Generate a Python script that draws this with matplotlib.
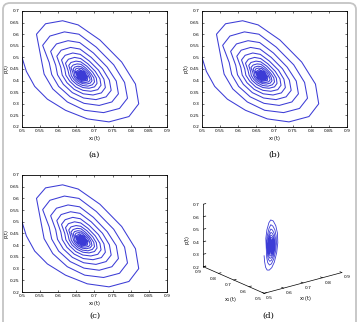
import matplotlib
matplotlib.use("Agg")
import matplotlib.pyplot as plt
import numpy as np
from matplotlib.patches import FancyBboxPatch

# trajectory (x1 = x2 = x3 in the pictures), one row per turn
x_t = [0.500, 0.512, 0.535, 0.570, 0.620, 0.680, 0.740, 0.795, 0.822, 0.813, 0.775, 0.715, 0.655, 0.612, 0.565, 0.540,
       0.553, 0.561, 0.585, 0.625, 0.673, 0.725, 0.769, 0.791, 0.783, 0.753, 0.705, 0.657, 0.617, 0.577, 0.557,
       0.575, 0.582, 0.601, 0.633, 0.671, 0.713, 0.748, 0.766, 0.760, 0.735, 0.697, 0.659, 0.627, 0.595, 0.579,
       0.593, 0.598, 0.614, 0.639, 0.670, 0.704, 0.732, 0.746, 0.741, 0.722, 0.691, 0.660, 0.634, 0.608, 0.596,
       0.607, 0.611, 0.624, 0.644, 0.669, 0.696, 0.719, 0.730, 0.726, 0.711, 0.686, 0.661, 0.640, 0.619, 0.609,
       0.618, 0.621, 0.632, 0.648, 0.668, 0.690, 0.709, 0.718, 0.715, 0.702, 0.682, 0.662, 0.645, 0.628, 0.620,
       0.627, 0.630, 0.638, 0.652, 0.668, 0.685, 0.700, 0.707, 0.705, 0.695, 0.679, 0.662, 0.649, 0.635, 0.629,
       0.634, 0.636, 0.643, 0.654, 0.667, 0.682, 0.694, 0.700, 0.698, 0.689, 0.676, 0.663, 0.652, 0.641, 0.635,
       0.640, 0.642, 0.647, 0.656, 0.667, 0.678, 0.688, 0.693, 0.691, 0.685, 0.674, 0.663, 0.654, 0.645, 0.641,
       0.645, 0.646, 0.651, 0.658, 0.666, 0.676, 0.684, 0.688, 0.686, 0.681, 0.672, 0.664, 0.656, 0.649, 0.646,
       0.649, 0.653, 0.666, 0.680, 0.682, 0.671, 0.658, 0.649,
       0.652, 0.656, 0.666, 0.677, 0.679, 0.670, 0.659, 0.652,
       0.654, 0.657, 0.666, 0.675, 0.676, 0.669, 0.660, 0.655,
       0.656, 0.659, 0.666, 0.673, 0.674, 0.668, 0.661, 0.657,
       0.658, 0.660, 0.666, 0.671, 0.672, 0.668, 0.662, 0.658,
       0.660, 0.661, 0.665, 0.670, 0.671, 0.667, 0.663, 0.660,
       0.661, 0.662, 0.665, 0.669, 0.670, 0.667, 0.663, 0.661,
       0.662, 0.663, 0.665, 0.668, 0.669, 0.666, 0.664, 0.662,
       0.662, 0.663, 0.665, 0.667, 0.668, 0.666, 0.664, 0.663,
       0.663, 0.664, 0.665, 0.667, 0.667, 0.666, 0.664, 0.663, 0.665]
p_t = [0.500, 0.440, 0.375, 0.320, 0.272, 0.235, 0.222, 0.245, 0.300, 0.385, 0.480, 0.575, 0.640, 0.658, 0.645, 0.600,
       0.492, 0.428, 0.364, 0.308, 0.272, 0.262, 0.280, 0.324, 0.392, 0.468, 0.544, 0.600, 0.610, 0.592, 0.552,
       0.478, 0.426, 0.375, 0.330, 0.302, 0.293, 0.308, 0.343, 0.398, 0.458, 0.519, 0.564, 0.572, 0.558, 0.526,
       0.466, 0.425, 0.384, 0.348, 0.325, 0.318, 0.330, 0.358, 0.402, 0.451, 0.500, 0.536, 0.543, 0.531, 0.505,
       0.457, 0.424, 0.391, 0.362, 0.343, 0.338, 0.347, 0.370, 0.406, 0.445, 0.484, 0.513, 0.519, 0.509, 0.489,
       0.450, 0.423, 0.397, 0.373, 0.358, 0.354, 0.361, 0.380, 0.408, 0.440, 0.472, 0.495, 0.500, 0.492, 0.475,
       0.444, 0.423, 0.401, 0.382, 0.370, 0.367, 0.373, 0.388, 0.411, 0.436, 0.462, 0.481, 0.484, 0.478, 0.465,
       0.440, 0.422, 0.405, 0.389, 0.379, 0.376, 0.382, 0.394, 0.412, 0.433, 0.454, 0.470, 0.472, 0.467, 0.456,
       0.436, 0.422, 0.408, 0.395, 0.387, 0.385, 0.389, 0.399, 0.414, 0.431, 0.448, 0.460, 0.462, 0.458, 0.449,
       0.433, 0.421, 0.410, 0.400, 0.393, 0.392, 0.395, 0.403, 0.415, 0.429, 0.442, 0.452, 0.454, 0.451, 0.444,
       0.431, 0.412, 0.398, 0.400, 0.416, 0.438, 0.448, 0.439,
       0.429, 0.413, 0.403, 0.404, 0.417, 0.435, 0.442, 0.436,
       0.427, 0.415, 0.406, 0.407, 0.417, 0.432, 0.438, 0.433,
       0.426, 0.416, 0.409, 0.409, 0.418, 0.430, 0.435, 0.430,
       0.424, 0.417, 0.411, 0.411, 0.418, 0.428, 0.432, 0.428,
       0.424, 0.417, 0.413, 0.413, 0.419, 0.426, 0.429, 0.426,
       0.423, 0.418, 0.414, 0.415, 0.419, 0.425, 0.427, 0.425,
       0.422, 0.418, 0.416, 0.416, 0.419, 0.424, 0.426, 0.424,
       0.422, 0.419, 0.417, 0.417, 0.419, 0.423, 0.424, 0.423,
       0.421, 0.419, 0.418, 0.418, 0.420, 0.422, 0.423, 0.422, 0.420]

x_ticks = [0.5, 0.55, 0.6, 0.65, 0.7, 0.75, 0.8, 0.85, 0.9]
x_ticklabels = ['0.5', '0.55', '0.6', '0.65', '0.7', '0.75', '0.8', '0.85', '0.9']
p_ticks = [0.2, 0.25, 0.3, 0.35, 0.4, 0.45, 0.5, 0.55, 0.6, 0.65, 0.7]
p_ticklabels = ['0.2', '0.25', '0.3', '0.35', '0.4', '0.45', '0.5', '0.55', '0.6', '0.65', '0.7']
ticks3_x = [0.5, 0.6, 0.7, 0.8, 0.9]
ticks3_z = [0.2, 0.3, 0.4, 0.5, 0.6, 0.7]
xlabels = ['x$_1$(t)', 'x$_2$(t)', 'x$_3$(t)']
captions = ['(a)', '(b)', '(c)', '(d)']

line_col = '#3c3cd6'
W, H = 360, 322

fig = plt.figure(figsize=(3.6, 3.22), dpi=100)

# rounded frame around the whole figure
frame = FancyBboxPatch((3 / W, -0.05), 353 / W, 1.05 - 3 / H,
                       boxstyle="round,pad=0,rounding_size=0.02",
                       transform=fig.transFigure, fill=False,
                       edgecolor='#c4c4c4', linewidth=1.3)
fig.patches.append(frame)

rects = [(22, 11, 145, 116), (202, 11, 145, 116), (22, 175, 145, 117)]
cap_y = [155, 155, 316]
for i, (l, t, w, h) in enumerate(rects):
    ax = fig.add_axes([l / W, 1 - (t + h) / H, w / W, h / H])
    ax.plot(x_t, p_t, color=line_col, linewidth=0.75)
    ax.set_xlim(0.5, 0.9)
    ax.set_ylim(0.2, 0.7)
    ax.set_xticks(x_ticks)
    ax.set_xticklabels(x_ticklabels)
    ax.set_yticks(p_ticks)
    ax.set_yticklabels(p_ticklabels)
    ax.tick_params(direction='in', length=1.5, width=0.4, labelsize=3.2, pad=1.5,
                   top=True, right=True)
    for s in ax.spines.values():
        s.set_linewidth(0.6)
    ax.set_xlabel(xlabels[i], fontsize=3.5, labelpad=1)
    ax.set_ylabel('p(t)', fontsize=3.5, labelpad=1)
    fig.text((l + w / 2) / W, 1 - cap_y[i] / H, captions[i], ha='center', va='center',
             fontsize=6, family='DejaVu Serif')

# 3-D view, axes drawn by hand on the box edges
ax3 = fig.add_axes([196 / W, 1 - 300 / H, 150 / W, 120 / H], projection='3d', proj_type='ortho')
ax3.set_box_aspect((4, 4, 2.7), zoom=1.25)
ax3.view_init(elev=-20, azim=38)
ax3.set_axis_off()
ax3.set_xlim(0.5, 0.9)
ax3.set_ylim(0.5, 0.9)
ax3.set_zlim(0.2, 0.7)
ax3.plot(x_t, x_t, p_t, color=line_col, linewidth=0.6)

k = dict(color='black', linewidth=0.5, clip_on=False)
ax3.plot([0.9, 0.9], [0.5, 0.5], [0.2, 0.7], **k)
ax3.plot([0.9, 0.5], [0.5, 0.5], [0.2, 0.2], **k)
ax3.plot([0.5, 0.5], [0.5, 0.9], [0.2, 0.2], **k)
for v in ticks3_x:
    ax3.plot([v, v], [0.5, 0.512], [0.2, 0.2], **k)
    ax3.plot([0.5, 0.512], [v, v], [0.2, 0.2], **k)
for v in ticks3_z:
    ax3.plot([0.9, 0.9], [0.5, 0.512], [v, v], **k)

# labels of the 3-D axes: project the 3-D anchor to figure coords, then plain 2-D text
fig.canvas.draw()
M = ax3.get_proj()


def label3d(x, y, z, s, **kw):
    v = M @ np.array([x, y, z, 1.0])
    px, py = ax3.transData.transform((v[0] / v[3], v[1] / v[3]))
    fx, fy = fig.transFigure.inverted().transform((px, py))
    fig.text(fx, fy, s, **kw)


for v in ticks3_x:
    label3d(v, 0.472, 0.17, f'{v:.1f}', ha='center', va='center', fontsize=3.2)
    label3d(0.465, v, 0.18, f'{v:.1f}', ha='center', va='center', fontsize=3.2)
for v in ticks3_z:
    label3d(0.9, 0.48, v, f'{v:.1f}', ha='right', va='center', fontsize=3.2)
label3d(0.72, 0.5, 0.03, 'x$_1$(t)', ha='center', va='center', fontsize=3.5)
label3d(0.5, 0.71, 0.075, 'x$_2$(t)', ha='center', va='center', fontsize=3.5)
label3d(0.9, 0.415, 0.45, 'p(t)', ha='center', va='center', fontsize=3.5, rotation=90)
fig.text(268 / W, 1 - 316 / H, captions[3], ha='center', va='center',
         fontsize=6, family='DejaVu Serif')

fig.savefig('out.png', dpi=100)
